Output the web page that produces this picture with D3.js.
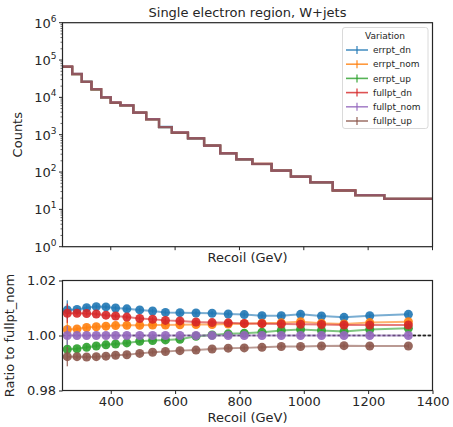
<!DOCTYPE html>
<html>
<head>
<meta charset="utf-8">
<script src="https://cdn.jsdelivr.net/npm/d3@7"></script>
<style>
  body { margin: 0; background: #fff; }
  text { font-family: "DejaVu Sans", sans-serif; fill: #262626; }
</style>
</head>
<body>
<script>
// Recoil binning (GeV)
let binEdges = [250, 280, 310, 340, 370, 400, 430, 470, 510, 550, 590, 640, 690, 740, 790, 840, 900, 960, 1020, 1090, 1160, 1250, 1400];

// nominal counts per bin (fullpt_nom)
let counts = [66000, 42000, 26000, 16500, 10000, 7200, 6100, 3900, 2600, 1600, 1130, 800, 510, 318, 219, 164, 109, 75, 53, 32, 24, 19];

let variations = ["errpt_dn", "errpt_nom", "errpt_up", "fullpt_dn", "fullpt_nom", "fullpt_up"];
let colors = ["#1f77b4", "#ff7f0e", "#2ca02c", "#d62728", "#9467bd", "#8c564b"];

// ratio to fullpt_nom for each variation
let errptDn  = [1.0093, 1.0095, 1.0101, 1.0105, 1.0104, 1.0100, 1.0097, 1.0093, 1.0089, 1.0084, 1.0083, 1.0082, 1.0081, 1.0078, 1.0076, 1.0072, 1.0072, 1.0077, 1.0071, 1.0066, 1.0072, 1.0077];
let errptNom = [1.0022, 1.0024, 1.0029, 1.0032, 1.0034, 1.0036, 1.0037, 1.0037, 1.0038, 1.0038, 1.0039, 1.0040, 1.0040, 1.0042, 1.0043, 1.0045, 1.0046, 1.0050, 1.0045, 1.0042, 1.0047, 1.0050];
let errptUp  = [0.9950, 0.9952, 0.9957, 0.9962, 0.9966, 0.9969, 0.9973, 0.9979, 0.9982, 0.9984, 0.9986, 0.9997, 1.0002, 1.0006, 1.0008, 1.0012, 1.0018, 1.0022, 1.0018, 1.0015, 1.0022, 1.0026];
let fullptDn = [1.0081, 1.0081, 1.0080, 1.0078, 1.0074, 1.0071, 1.0067, 1.0062, 1.0059, 1.0055, 1.0053, 1.0049, 1.0047, 1.0046, 1.0044, 1.0043, 1.0042, 1.0041, 1.0040, 1.0038, 1.0038, 1.0038];
let fullptNom = [1, 1, 1, 1, 1, 1, 1, 1, 1, 1, 1, 1, 1, 1, 1, 1, 1, 1, 1, 1, 1, 1];
let fullptUp = [0.9923, 0.9923, 0.9922, 0.9923, 0.9925, 0.9928, 0.9930, 0.9935, 0.9939, 0.9942, 0.9945, 0.9947, 0.9951, 0.9954, 0.9955, 0.9957, 0.9960, 0.9960, 0.9962, 0.9963, 0.9962, 0.9962];

// statistical error on the ratio (first bin is the only visible one)
let ratioErr = [0.0035, 0.0008, 0.0008, 0.0008, 0.0008, 0.0008, 0.0008, 0.0008, 0.0008, 0.0008, 0.0008, 0.0008, 0.0008, 0.0008, 0.0008, 0.0008, 0.0008, 0.0008, 0.0008, 0.0008, 0.0008, 0.0008];

let yTicksTop = [1, 10, 100, 1000, 10000, 100000, 1000000];
let xTicks = [400, 600, 800, 1000, 1200, 1400];
let yTicksRatio = [0.98, 1.00, 1.02];

let ratios = [errptDn, errptNom, errptUp, fullptDn, fullptNom, fullptUp];

let w = 453, h = 427;
let padL = 62.5, padR = 432.5;
let topY0 = 22.7, topY1 = 246.7;
let botY0 = 280.5, botY1 = 390.5;

let svg = d3.select("body").append("svg")
    .attr("width", w)
    .attr("height", h);

let x = d3.scaleLinear().domain([250, 1400]).range([padL, padR]);
let yTop = d3.scaleLog().domain([1, 1e6]).range([topY1, topY0]);
let yBot = d3.scaleLinear().domain([0.98, 1.02]).range([botY1, botY0]);

let centers = binEdges.slice(0, -1).map((e, i) => (e + binEdges[i + 1]) / 2);

// ---------- top panel ----------
let topPanel = svg.append("g");

ratios.forEach(function (r, s) {
    let pts = [];
    counts.forEach(function (c, i) {
        let v = c * r[i];
        pts.push([binEdges[i], v]);
        pts.push([binEdges[i + 1], v]);
    });
    topPanel.append("path")
        .attr("d", d3.line().x(d => x(d[0])).y(d => yTop(d[1]))(pts))
        .attr("fill", "none")
        .attr("stroke", colors[s])
        .attr("stroke-width", 2.2)
        .attr("stroke-opacity", 0.75);
});

// frame
topPanel.append("rect")
    .attr("x", padL).attr("y", topY0)
    .attr("width", padR - padL).attr("height", topY1 - topY0)
    .attr("fill", "none").attr("stroke", "#262626").attr("stroke-width", 1.2);

// x ticks (no labels)
topPanel.selectAll(".xt").data(xTicks).enter().append("line")
    .attr("x1", d => x(d)).attr("x2", d => x(d))
    .attr("y1", topY1).attr("y2", topY1 + 3.5)
    .attr("stroke", "#262626").attr("stroke-width", 1);

// log y ticks
let minor = [];
for (let p = 0; p < 6; p++) {
    for (let m = 2; m < 10; m++) minor.push(m * Math.pow(10, p));
}
topPanel.selectAll(".ymn").data(minor).enter().append("line")
    .attr("x1", padL - 2).attr("x2", padL)
    .attr("y1", d => yTop(d)).attr("y2", d => yTop(d))
    .attr("stroke", "#262626").attr("stroke-width", 0.7);
topPanel.selectAll(".ymj").data(yTicksTop).enter().append("line")
    .attr("x1", padL - 3.5).attr("x2", padL)
    .attr("y1", d => yTop(d)).attr("y2", d => yTop(d))
    .attr("stroke", "#262626").attr("stroke-width", 1);

let ylab = topPanel.selectAll(".ylab").data(yTicksTop).enter().append("text")
    .attr("x", padL - 6)
    .attr("y", d => yTop(d) + 5)
    .attr("text-anchor", "end")
    .attr("font-size", 13);
ylab.append("tspan").text("10");
ylab.append("tspan")
    .attr("font-size", 9)
    .attr("dy", -6)
    .text(d => Math.round(Math.log10(d)));

topPanel.append("text")
    .attr("transform", "translate(22," + ((topY0 + topY1) / 2) + ") rotate(-90)")
    .attr("text-anchor", "middle")
    .attr("font-size", 13)
    .text("Counts");

topPanel.append("text")
    .attr("x", (padL + padR) / 2).attr("y", 262)
    .attr("text-anchor", "middle")
    .attr("font-size", 13)
    .text("Recoil (GeV)");

svg.append("text")
    .attr("x", (padL + padR) / 2).attr("y", 17)
    .attr("text-anchor", "middle")
    .attr("font-size", 13)
    .text("Single electron region, W+jets");

// legend
let lg = svg.append("g");
lg.append("rect")
    .attr("x", 342.5).attr("y", 27.5)
    .attr("width", 85.5).attr("height", 101)
    .attr("rx", 2.5)
    .attr("fill", "#fff").attr("fill-opacity", 0.8)
    .attr("stroke", "#d0d0d0").attr("stroke-width", 0.8);
lg.append("text")
    .attr("x", 385).attr("y", 38.5)
    .attr("text-anchor", "middle")
    .attr("font-size", 9)
    .text("Variation");
variations.forEach(function (v, i) {
    let yy = 50 + i * 14.2;
    lg.append("line")
        .attr("x1", 346).attr("x2", 368)
        .attr("y1", yy).attr("y2", yy)
        .attr("stroke", colors[i]).attr("stroke-width", 1.6).attr("stroke-opacity", 0.8);
    lg.append("line")
        .attr("x1", 357).attr("x2", 357)
        .attr("y1", yy - 4).attr("y2", yy + 4)
        .attr("stroke", colors[i]).attr("stroke-width", 1.4).attr("stroke-opacity", 0.8);
    lg.append("text")
        .attr("x", 373).attr("y", yy + 3.2)
        .attr("font-size", 9)
        .text(v);
});

// ---------- ratio panel ----------
let botPanel = svg.append("g");

botPanel.append("line")
    .attr("x1", padL).attr("x2", padR)
    .attr("y1", yBot(1)).attr("y2", yBot(1))
    .attr("stroke", "#222").attr("stroke-width", 1.3)
    .attr("stroke-dasharray", "3,2");

ratios.forEach(function (r, s) {
    let g = botPanel.append("g");
    g.append("path")
        .attr("d", d3.line().x((d, i) => x(centers[i])).y(d => yBot(d))(r))
        .attr("fill", "none")
        .attr("stroke", colors[s])
        .attr("stroke-width", 2)
        .attr("stroke-opacity", 0.6);
    g.selectAll(".eb").data(r).enter().append("line")
        .attr("x1", (d, i) => x(centers[i])).attr("x2", (d, i) => x(centers[i]))
        .attr("y1", (d, i) => yBot(d - ratioErr[i]))
        .attr("y2", (d, i) => yBot(d + ratioErr[i]))
        .attr("stroke", colors[s]).attr("stroke-width", 1.4)
        .attr("stroke-opacity", 0.8);
    g.selectAll(".pt").data(r).enter().append("circle")
        .attr("cx", (d, i) => x(centers[i]))
        .attr("cy", d => yBot(d))
        .attr("r", 4.5)
        .attr("fill", colors[s])
        .attr("fill-opacity", 0.9);
});

// dashed line beyond the last point stays visible on top
botPanel.append("line")
    .attr("x1", x(1340)).attr("x2", padR)
    .attr("y1", yBot(1)).attr("y2", yBot(1))
    .attr("stroke", "#222").attr("stroke-width", 1.3)
    .attr("stroke-dasharray", "3,2");

botPanel.append("rect")
    .attr("x", padL).attr("y", botY0)
    .attr("width", padR - padL).attr("height", botY1 - botY0)
    .attr("fill", "none").attr("stroke", "#262626").attr("stroke-width", 1.2);

let xAxis = botPanel.append("g")
    .attr("transform", "translate(0," + botY1 + ")")
    .call(d3.axisBottom(x).tickValues(xTicks).tickSize(3.5).tickPadding(3).tickFormat(d3.format("d")));
xAxis.select(".domain").remove();
xAxis.selectAll("text").attr("font-size", 13).attr("font-family", "DejaVu Sans").attr("fill", "#262626");
xAxis.selectAll("line").attr("stroke", "#262626");

let yAxis = botPanel.append("g")
    .attr("transform", "translate(" + padL + ",0)")
    .call(d3.axisLeft(yBot).tickValues(yTicksRatio).tickSize(3.5).tickPadding(3).tickFormat(d3.format(".2f")));
yAxis.select(".domain").remove();
yAxis.selectAll("text").attr("font-size", 13).attr("font-family", "DejaVu Sans").attr("fill", "#262626");
yAxis.selectAll("line").attr("stroke", "#262626");

botPanel.append("text")
    .attr("transform", "translate(14," + ((botY0 + botY1) / 2) + ") rotate(-90)")
    .attr("text-anchor", "middle")
    .attr("font-size", 13)
    .text("Ratio to fullpt_nom");

botPanel.append("text")
    .attr("x", (padL + padR) / 2).attr("y", 422)
    .attr("text-anchor", "middle")
    .attr("font-size", 13)
    .text("Recoil (GeV)");
</script>
</body>
</html>
